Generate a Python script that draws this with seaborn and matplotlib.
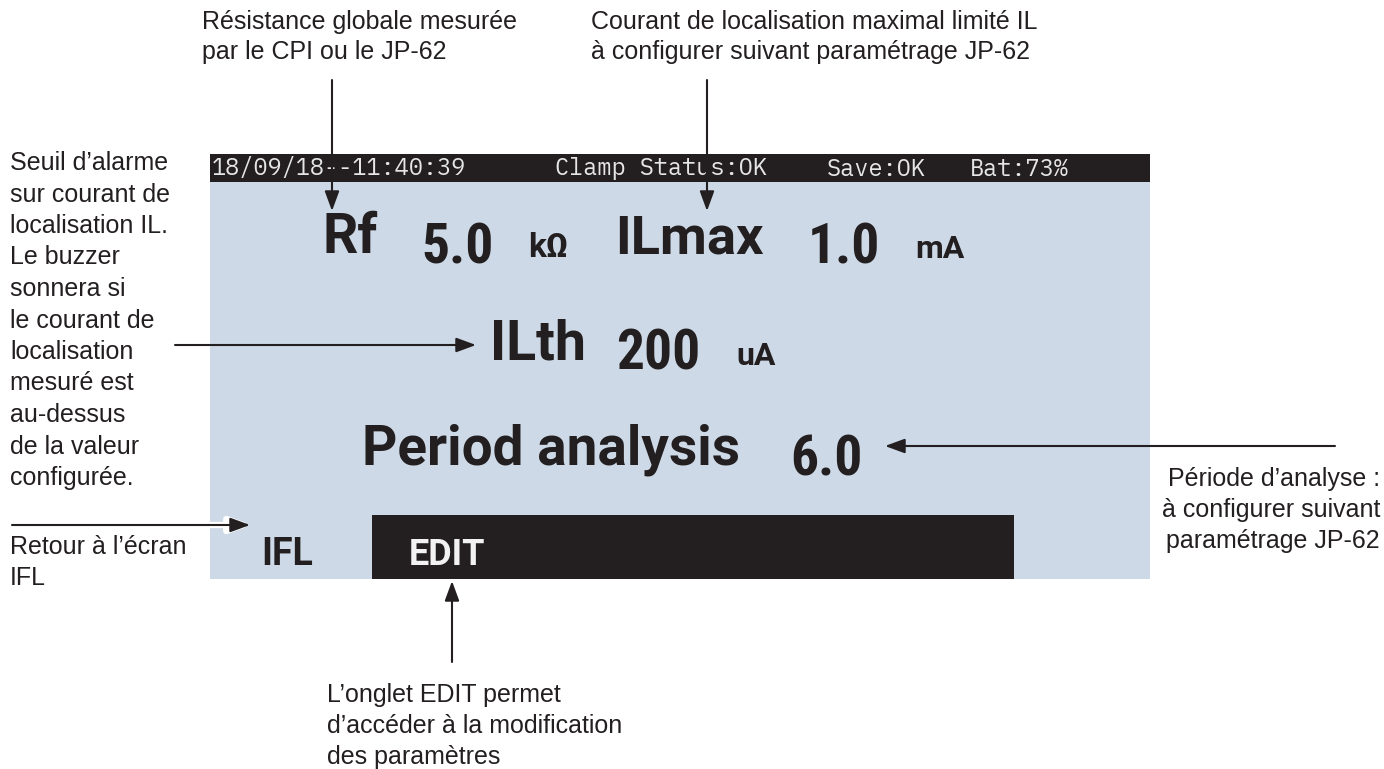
import matplotlib
matplotlib.use("Agg")
import matplotlib.pyplot as plt
import seaborn as sns

sns.set_theme(style="white")
plt.rcParams["font.family"] = ["Liberation Sans", "DejaVu Sans"]

# screen content
status_items = ["18/09/18--11:40:39", "Clamp Status:OK", "Save:OK", "Bat:73%"]
status_x = [212, 555, 827, 970]
fields = ["Rf", "ILmax", "ILth", "Period analysis"]
values = ["5.0", "1.0", "200", "6.0"]
units = ["kΩ", "mA", "uA", ""]
tabs = ["IFL", "EDIT"]

# callouts
note_rf = ["Résistance globale mesurée", "par le CPI ou le JP-62"]
note_ilmax = ["Courant de localisation maximal limité IL", "à configurer suivant paramétrage JP-62"]
note_ilth = ["Seuil d’alarme", "sur courant de", "localisation IL.", "Le buzzer",
             "sonnera si", "le courant de", "localisation", "mesuré est",
             "au-dessus", "de la valeur", "configurée."]
note_ifl = ["Retour à l’écran", "IFL"]
note_period = ["Période d’analyse :", "à configurer suivant", "paramétrage JP-62"]
note_edit = ["L’onglet EDIT permet", "d’accéder à la modification", "des paramètres"]

INK = "#231f20"
PANEL = "#cdd9e6"
LBL = ["Roboto", "DejaVu Sans"]
NUM = ["Roboto Condensed", "IBM Plex Sans Condensed", "Roboto", "DejaVu Sans"]
MONO = ["IBM Plex Mono", "DejaVu Sans Mono"]

fig = plt.figure(figsize=(13.84, 7.69), dpi=100)
ax = fig.add_axes([0, 0, 1, 1])
ax.set_xlim(0, 1384)
ax.set_ylim(769, 0)
ax.axis("off")

# panel + bars
ax.add_patch(plt.Rectangle((210, 154), 940, 425, color=PANEL, lw=0))
ax.add_patch(plt.Rectangle((210, 154), 940, 28, color=INK, lw=0))
ax.add_patch(plt.Rectangle((372, 515), 642, 64, color=INK, lw=0))

for s, x in zip(status_items, status_x):
    ax.text(x, 169, s, family=MONO, fontsize=17, fontweight="normal", color="#e6e6e6",
            va="center", ha="left")


def lcd(x, y, s, size, fam, color=INK):
    ax.text(x, y, s, family=fam, fontsize=size, fontweight="bold", color=color,
            va="baseline", ha="left")


# row 1
lcd(322, 253, fields[0], 40, LBL)
lcd(421, 263, values[0], 40, NUM)
lcd(528, 257, units[0], 24, LBL)
lcd(615, 253, fields[1], 39, LBL)
lcd(808, 263, values[1], 40, NUM)
lcd(915, 258, units[1], 23, LBL)
# row 2
lcd(490, 360, fields[2], 40, LBL)
lcd(616, 370, values[2], 40, NUM)
lcd(736, 365, units[2], 23, LBL)
# row 3
lcd(362, 465, fields[3], 39.5, LBL)
lcd(790, 475, values[3], 40, NUM)
# tabs
lcd(261, 565, tabs[0], 27, LBL)
lcd(409, 565, tabs[1], 26, LBL, color="#f2f2f2")

# annotation texts
tk = dict(fontsize=18, color=INK, va="center")
for i, s in enumerate(note_rf):
    ax.text(202, 22 + i * 30, s, ha="left", **tk)
for i, s in enumerate(note_ilmax):
    ax.text(591, 22 + i * 30, s, ha="left", **tk)
for i, s in enumerate(note_ilth):
    ax.text(10, 163 + i * 31.5, s, ha="left", **tk)
for i, s in enumerate(note_ifl):
    ax.text(10, 547 + i * 31, s, ha="left", **tk)
for i, s in enumerate(note_period):
    ax.text(1380, 479 + i * 31, s, ha="right", **tk)
for i, s in enumerate(note_edit):
    ax.text(327, 695 + i * 31, s, ha="left", **tk)

ap = dict(arrowstyle="-|>,head_length=0.6,head_width=0.22", color=INK, lw=1.5,
          mutation_scale=20, shrinkA=0, shrinkB=0)
ax.annotate("", xy=(332, 211), xytext=(332, 80), arrowprops=ap)
ax.annotate("", xy=(707, 211), xytext=(707, 80), arrowprops=ap)
ax.annotate("", xy=(476, 345), xytext=(175, 345), arrowprops=ap)
ax.annotate("", xy=(885, 446), xytext=(1335, 446), arrowprops=ap)
ax.annotate("", xy=(452, 581), xytext=(452, 662), arrowprops=ap)
# return arrow: white halo under a black arrow
ax.annotate("", xy=(252, 525), xytext=(12, 525), arrowprops=dict(ap, color="white", lw=4.5))
ax.annotate("", xy=(250, 525), xytext=(12, 525), arrowprops=ap)

fig.savefig("out.png", dpi=100, facecolor="white")
